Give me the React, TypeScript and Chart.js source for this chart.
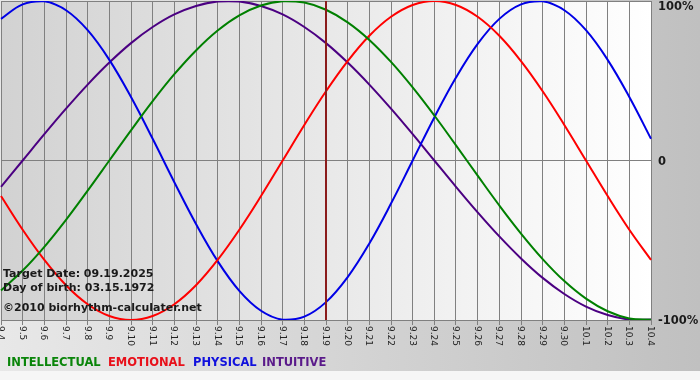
import React, { useEffect, useRef } from "react";
import { Chart, registerables } from "chart.js";

Chart.register(...registerables);

const CATEGORIES = [
  "9.4", "9.5", "9.6", "9.7", "9.8", "9.9", "9.10", "9.11", "9.12", "9.13", "9.14",
  "9.15", "9.16", "9.17", "9.18", "9.19", "9.20", "9.21", "9.22", "9.23", "9.24",
  "9.25", "9.26", "9.27", "9.28", "9.29", "9.30", "10.1", "10.2", "10.3", "10.4",
];

const INTELLECTUAL = [
  -0.815, -0.69, -0.541, -0.372, -0.189, 0, 0.189, 0.372, 0.541, 0.69, 0.815,
  0.91, 0.972, 0.999, 0.99, 0.945, 0.866, 0.756, 0.618, 0.458, 0.282,
  0.095, -0.095, -0.282, -0.458, -0.618, -0.756, -0.866, -0.945, -0.99, -0.999,
];

const EMOTIONAL = [
  -0.223, -0.434, -0.623, -0.782, -0.901, -0.975, -1, -0.975, -0.901, -0.782, -0.623,
  -0.434, -0.223, 0, 0.223, 0.434, 0.623, 0.782, 0.901, 0.975, 1,
  0.975, 0.901, 0.782, 0.623, 0.434, 0.223, 0, -0.223, -0.434, -0.623,
];

const PHYSICAL = [
  0.888, 0.979, 0.998, 0.942, 0.817, 0.631, 0.398, 0.136, -0.136, -0.398, -0.631,
  -0.817, -0.942, -0.998, -0.979, -0.888, -0.731, -0.52, -0.27, 0, 0.27,
  0.52, 0.731, 0.888, 0.979, 0.998, 0.942, 0.817, 0.631, 0.398, 0.136,
];

const INTUITIVE = [
  -0.165, 0, 0.165, 0.325, 0.476, 0.614, 0.736, 0.837, 0.916, 0.969, 0.997,
  0.997, 0.969, 0.916, 0.837, 0.736, 0.614, 0.476, 0.325, 0.165, 0,
  -0.165, -0.325, -0.476, -0.614, -0.736, -0.837, -0.916, -0.969, -0.997, -0.997,
];

const SERIES_NAMES = ["INTELLECTUAL", "EMOTIONAL", "PHYSICAL", "INTUITIVE"];
const SERIES_COLORS = ["#008000", "#ff0000", "#0000e6", "#4b0082"];
const LEGEND_COLORS = ["#0a850a", "#e8101a", "#1010dd", "#5a1a8a"];

const Y_TICK_VALUES = [1, 0, -1];
const Y_TICK_LABELS = ["100%", "0", "-100%"];

const TARGET_CATEGORY = "9.19";
const INFO_LINES = [
  "Target Date: 09.19.2025",
  "Day of birth: 03.15.1972",
  "\u00a92010 biorhythm-calculater.net",
];

const decorPlugin = {
  id: "decor",
  beforeDraw(chart: any) {
    const ctx = chart.ctx;
    const { width, height, chartArea } = chart;
    ctx.save();
    const g = ctx.createLinearGradient(0, 0, width, 0);
    g.addColorStop(0, "#e8e8e8");
    g.addColorStop(1, "#c0c0c0");
    ctx.fillStyle = g;
    ctx.fillRect(0, 0, width, 371);
    ctx.fillStyle = "#f6f6f6";
    ctx.fillRect(0, 371, width, height - 371);
    const pg = ctx.createLinearGradient(chartArea.left, 0, chartArea.right, 0);
    pg.addColorStop(0, "#d2d2d2");
    pg.addColorStop(1, "#ffffff");
    ctx.fillStyle = pg;
    ctx.fillRect(chartArea.left, chartArea.top, chartArea.right - chartArea.left, chartArea.bottom - chartArea.top);
    ctx.restore();
  },
  afterDatasetsDraw(chart: any) {
    const ctx = chart.ctx;
    const xs = chart.scales.x;
    const ys = chart.scales.y;
    const { chartArea } = chart;
    ctx.save();
    // target date line
    const tx = Math.round(xs.getPixelForValue(CATEGORIES.indexOf(TARGET_CATEGORY)));
    ctx.strokeStyle = "#8b1c1c";
    ctx.lineWidth = 2;
    ctx.beginPath();
    ctx.moveTo(tx, chartArea.top);
    ctx.lineTo(tx, chartArea.bottom);
    ctx.stroke();

    // x tick labels (rotated clockwise)
    ctx.fillStyle = "#222";
    ctx.font = "9px 'DejaVu Sans'";
    ctx.textAlign = "left";
    ctx.textBaseline = "middle";
    CATEGORIES.forEach((c, i) => {
      const x = xs.getPixelForValue(i);
      ctx.save();
      ctx.translate(x - 0.5, chartArea.bottom + 6);
      ctx.rotate(Math.PI / 2);
      ctx.fillText(c, 0, 0);
      ctx.restore();
    });

    // y tick labels on right
    ctx.font = "bold 11.5px 'DejaVu Sans'";
    ctx.fillStyle = "#1a1a1a";
    Y_TICK_VALUES.forEach((v, i) => {
      const y = Math.max(ys.getPixelForValue(v) + 1.5, 7.5);
      ctx.fillText(Y_TICK_LABELS[i], chartArea.right + 7, y);
    });

    // info text
    ctx.font = "bold 11px 'DejaVu Sans'";
    ctx.textBaseline = "alphabetic";
    ctx.fillStyle = "#1a1a1a";
    const baselines = [277, 291, 311];
    INFO_LINES.forEach((t, i) => ctx.fillText(t, 3, baselines[i]));

    // legend
    ctx.font = "bold 11.5px 'DejaVu Sans'";
    const starts = [7, 108, 193, 262];
    SERIES_NAMES.forEach((n, i) => {
      ctx.fillStyle = LEGEND_COLORS[i];
      ctx.fillText(n, starts[i], 366);
    });
    ctx.restore();
  },
};

export default function App() {
  const ref = useRef<HTMLCanvasElement | null>(null);
  useEffect(() => {
    if (!ref.current) return;
    const seriesData = [INTELLECTUAL, EMOTIONAL, PHYSICAL, INTUITIVE];
    const chart = new Chart(ref.current, {
      type: "line",
      data: {
        labels: CATEGORIES,
        datasets: seriesData.map((d, i) => ({
          label: SERIES_NAMES[i],
          data: d,
          borderColor: SERIES_COLORS[i],
          borderWidth: 2,
          pointRadius: 0,
          tension: 0.4,
          fill: false,
        })),
      },
      options: {
        responsive: false,
        animation: false,
        devicePixelRatio: 1,
        layout: { padding: { left: 1, top: 1, right: 0, bottom: 0 } },
        plugins: { legend: { display: false }, tooltip: { enabled: false } },
        scales: {
          x: {
            type: "category",
            offset: false,
            grid: { color: "#808080", lineWidth: 1, drawTicks: true, tickLength: 5 },
            border: { display: false },
            ticks: { display: false, autoSkip: false },
            afterFit: (s: any) => {
              s.height = 60;
            },
          },
          y: {
            position: "right",
            min: -1,
            max: 1,
            grid: { color: "#808080", lineWidth: 1, drawTicks: false },
            border: { display: false },
            ticks: { display: false, stepSize: 1 },
            afterFit: (s: any) => {
              s.width = 49;
            },
          },
        },
      },
      plugins: [decorPlugin],
    });
    return () => chart.destroy();
  }, []);
  return (
    <div style={{ position: "fixed", left: 0, top: 0, width: 700, height: 380 }}>
      <canvas ref={ref} width={700} height={380} style={{ display: "block" }} />
    </div>
  );
}
